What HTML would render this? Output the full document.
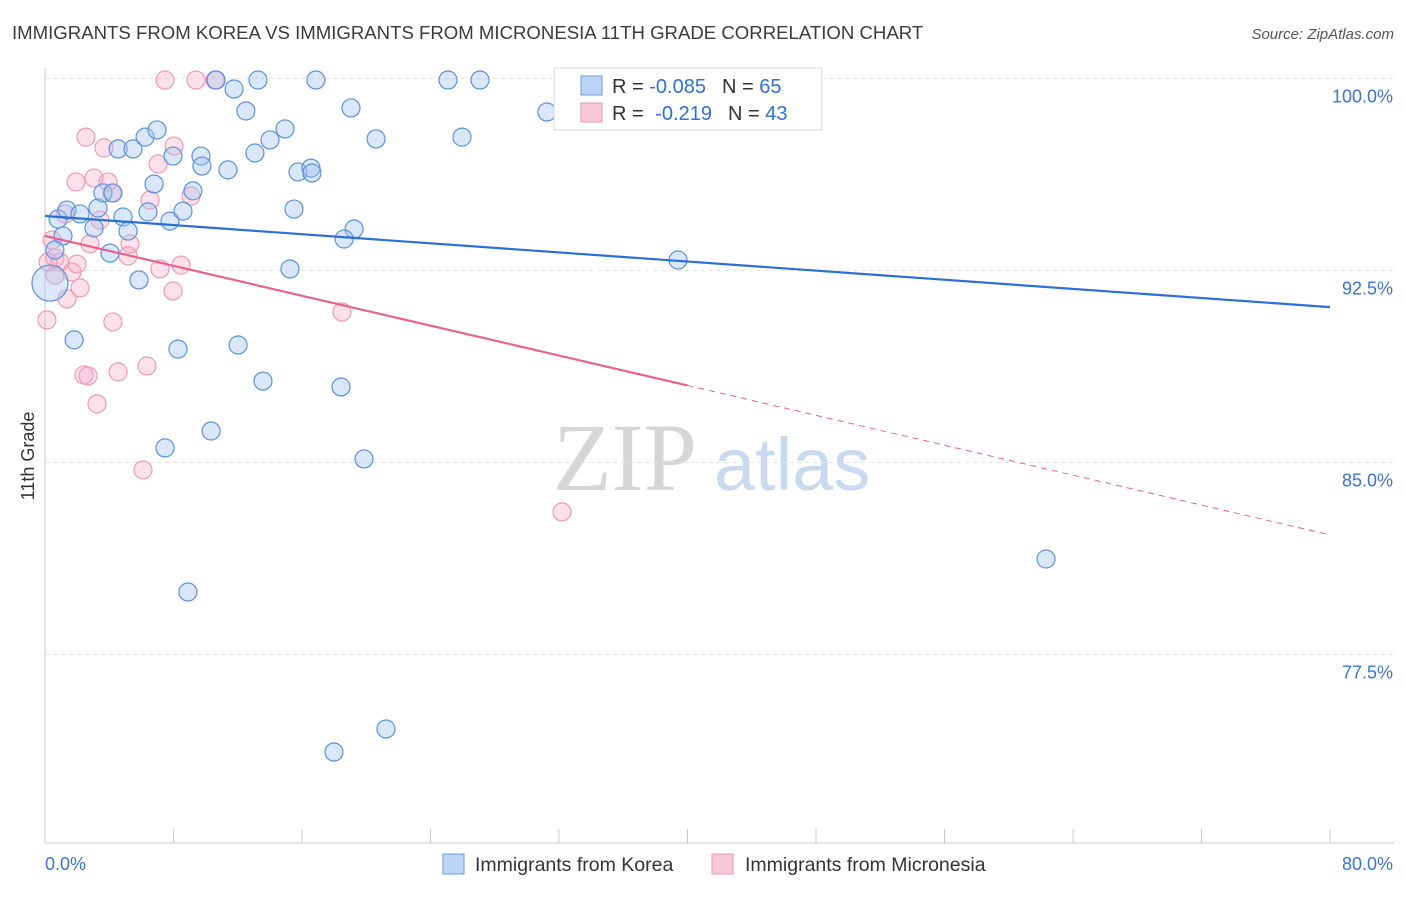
<!DOCTYPE html>
<html><head><meta charset="utf-8">
<style>
html,body{margin:0;padding:0;background:#fff;}
body{width:1406px;height:892px;overflow:hidden;font-family:"Liberation Sans",sans-serif;}
</style></head>
<body>
<svg id="chart" width="1406" height="892" xmlns="http://www.w3.org/2000/svg" font-family="Liberation Sans, sans-serif">
<text x="12" y="39" font-size="18.6" fill="#3a3a3a">IMMIGRANTS FROM KOREA VS IMMIGRANTS FROM MICRONESIA 11TH GRADE CORRELATION CHART</text>
<text x="1394" y="39" font-size="15" fill="#555" text-anchor="end" font-style="italic">Source: ZipAtlas.com</text>
<g>
<text x="553" y="490" font-size="96" fill="#d6d6d6" font-family="Liberation Serif, serif">ZIP</text>
<text x="714" y="490" font-size="74" fill="#c9d9f0">atlas</text>
</g>
<g id="grid"></g>
<g id="axes"></g>
<g id="marks"></g>
<g id="legend">
<rect x="554" y="68" width="268" height="62" fill="#fff" stroke="#d8d8d8"/>
<rect x="581" y="76" width="21" height="19" fill="#bcd4f5" stroke="#6a9ae0"/>
<rect x="581" y="103" width="21" height="19" fill="#fac7d6" stroke="#ec93b0"/>
<text x="612" y="93" font-size="20" fill="#333">R = <tspan fill="#2f6fd6">-0.085</tspan><tspan dx="16">N = </tspan><tspan fill="#2f6fd6">65</tspan></text>
<text x="612" y="120" font-size="20" fill="#333">R = <tspan fill="#2f6fd6" dx="6">-0.219</tspan><tspan dx="16">N = </tspan><tspan fill="#2f6fd6">43</tspan></text>
</g>
<g>
<rect x="443" y="854" width="21" height="20" fill="#bcd4f5" stroke="#6a9ae0"/>
<text x="475" y="871" font-size="19.5" fill="#333">Immigrants from Korea</text>
<rect x="712" y="854" width="21" height="20" fill="#fac7d6" stroke="#ec93b0"/>
<text x="745" y="871" font-size="19.5" fill="#333">Immigrants from Micronesia</text>
</g>
<text transform="translate(34,456) rotate(-90)" font-size="18" fill="#333" text-anchor="middle">11th Grade</text>
</svg>
<script>
const koreaX=[0.81,1.37,1.12,0.62,2.18,3.30,3.05,3.61,4.23,4.05,4.86,5.17,4.55,5.48,6.23,6.97,6.41,6.79,5.85,7.97,7.78,8.59,9.21,9.71,9.77,10.65,11.77,12.51,11.39,13.07,13.26,14.01,14.94,15.75,16.56,16.62,15.50,15.25,16.87,19.05,20.61,19.24,18.62,25.09,27.08,25.96,31.25,39.41,1.81,8.28,12.02,13.57,18.43,7.47,10.34,19.86,8.90,62.32,21.23,17.99,0.31];
const koreaY=[94.51,94.86,93.85,93.30,94.71,94.94,94.16,95.53,95.53,93.18,94.59,94.04,97.25,97.25,97.71,97.99,94.79,95.88,92.13,96.97,94.43,94.82,95.61,96.97,96.58,99.94,99.59,98.73,96.43,97.09,99.94,97.60,98.03,96.35,96.50,96.31,94.90,92.56,99.94,98.85,97.64,94.12,93.73,99.94,99.94,97.71,98.69,92.91,89.79,89.43,89.59,88.18,87.95,85.57,86.23,85.14,79.94,81.23,74.59,73.69,92.01];
const microX=[7.47,9.40,10.58,2.55,3.67,8.03,7.04,1.93,3.05,3.92,4.17,3.42,1.25,6.54,9.09,0.44,2.80,5.29,5.17,0.62,0.19,0.93,1.99,1.68,7.16,8.47,0.62,2.18,1.37,7.97,0.12,4.23,18.49,2.43,2.68,4.55,6.35,3.24,6.10,32.19];
const microY=[99.94,99.94,99.94,97.71,97.29,97.36,96.66,95.96,96.11,95.96,95.53,94.47,94.71,95.25,95.41,93.69,93.54,93.54,93.07,92.99,92.83,92.83,92.75,92.44,92.56,92.71,92.32,91.82,91.39,91.70,90.57,90.49,90.88,88.42,88.38,88.54,88.77,87.29,84.71,83.07];
const koreaTrend=[94.63,91.07];
const microTrend=[93.85,82.17];
const microSolidEnd=40.0;
const yTicks=[100.0,92.5,85.0,77.5];
const yTickLabels=["100.0%","92.5%","85.0%","77.5%"];
const xTickVals=[0,8,16,24,32,40,48,56,64,72,80];

const X0=45,X1=1330,XMAX=80;
const Y100=78.5,PXPER=25.6;
const sx=v=>X0+(v/XMAX)*(X1-X0);
const sy=v=>Y100+(100-v)*PXPER;
const NS="http://www.w3.org/2000/svg";
function mk(tag,attrs,parent){const e=document.createElementNS(NS,tag);for(const k in attrs)e.setAttribute(k,attrs[k]);parent.appendChild(e);return e;}
const grid=document.getElementById('grid'),axes=document.getElementById('axes'),marks=document.getElementById('marks');
yTicks.forEach((t,i)=>{
  const l=mk('line',{x1:X0,x2:1394,y1:sy(t),y2:sy(t),stroke:'#e3e3e3','stroke-dasharray':'4,4'},grid);
  
  
  const tx=mk('text',{x:1393,y:sy(t)+24,'font-size':18,fill:'#3d72d0','text-anchor':'end'},axes);
  tx.textContent=yTickLabels[i];
  
  
});
const ya=mk('line',{x1:X0,x2:X0,y1:68,y2:843,stroke:'#ccc'},axes);


const xa=mk('line',{x1:X0,x2:1394,y1:843,y2:843,stroke:'#ccc'},axes);


xTickVals.forEach(v=>{
  const t=mk('line',{x1:sx(v),x2:sx(v),y1:829,y2:843,stroke:'#ccc'},axes);
  
  
});
const xl0=mk('text',{x:45,y:870,'font-size':18,fill:'#3d72d0'},axes);xl0.textContent='0.0%';


const xl1=mk('text',{x:1393,y:870,'font-size':18,fill:'#3d72d0','text-anchor':'end'},axes);xl1.textContent='80.0%';



microX.forEach((x,i)=>{
  const c=mk('circle',{cx:sx(x),cy:sy(microY[i]),r:9,fill:'rgba(248,170,195,0.35)',stroke:'#ee9ab5','stroke-width':1.2},marks);
  
  
});
koreaX.forEach((x,i)=>{
  const r=i===koreaX.length-1?18:9;
  const c=mk('circle',{cx:sx(x),cy:sy(koreaY[i]),r:r,fill:'rgba(160,195,240,0.4)',stroke:'#5b91dd','stroke-width':1.2},marks);
  
  
});
const kt=mk('line',{x1:sx(0),y1:sy(koreaTrend[0]),x2:sx(XMAX),y2:sy(koreaTrend[1]),stroke:'#2a6fd6','stroke-width':2.2},marks);


const my=v=>microTrend[0]+(microTrend[1]-microTrend[0])*v/XMAX;
const mt=mk('line',{x1:sx(0),y1:sy(my(0)),x2:sx(microSolidEnd),y2:sy(my(microSolidEnd)),stroke:'#e8628e','stroke-width':2.2},marks);


const md=mk('line',{x1:sx(microSolidEnd),y1:sy(my(microSolidEnd)),x2:sx(XMAX),y2:sy(my(XMAX)),stroke:'#e8628e','stroke-width':1,'stroke-dasharray':'6,5'},marks);


</script>
</body></html>
